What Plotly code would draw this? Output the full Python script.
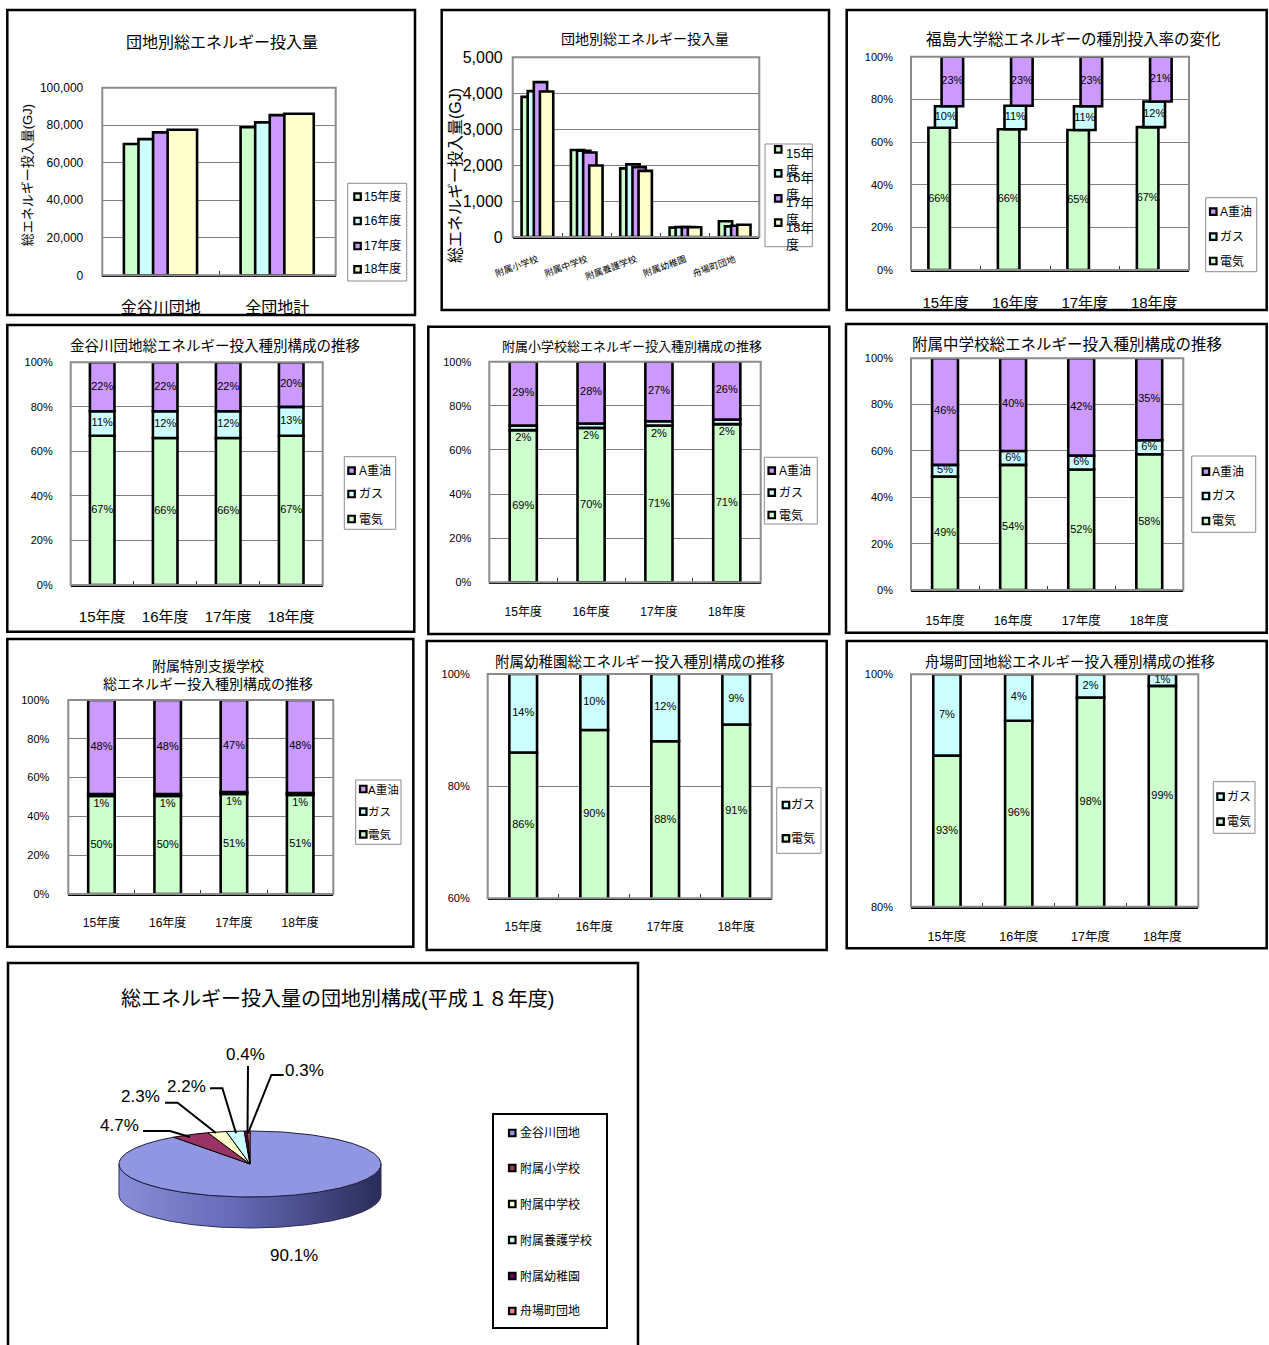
import math
import plotly.graph_objects as go

W, H = 1269, 1345
FONT = "Liberation Sans, Arial, Noto Sans CJK JP, sans-serif"

# ---------------- data ----------------
years = ["15年度", "16年度", "17年度", "18年度"]
year_colors = ["#CCFFCC", "#CCFFFF", "#CC99FF", "#FFFFCC"]

# 団地別総エネルギー投入量 (GJ)
site_names = ["金谷川団地", "全団地計"]
kanayagawa_gj = [70000, 72600, 76200, 77600]
all_sites_gj = [78900, 81500, 85400, 86100]

# 附属校・舟場町団地の総エネルギー投入量 (GJ)
school_names = ["附属小学校", "附属中学校", "附属養護学校", "附属幼稚園", "舟場町団地"]
elementary_gj = [3900, 4060, 4310, 4050]
junior_high_gj = [2420, 2400, 2350, 1990]
special_school_gj = [1910, 2020, 1940, 1840]
kindergarten_gj = [260, 275, 275, 270]
funaba_gj = [440, 295, 315, 340]

# 種別構成 (%)  電気 / ガス / A重油
energy_names = ["電気", "ガス", "A重油"]
energy_colors = ["#CCFFCC", "#CCFFFF", "#CC99FF"]

univ_elec = [66, 66, 65, 67]
univ_gas = [10, 11, 11, 12]
univ_oil = [23, 23, 23, 21]

kana_elec = [67, 66, 66, 67]
kana_gas = [11, 12, 12, 13]
kana_oil = [22, 22, 22, 20]

elem_elec = [69, 70, 71, 71]
elem_gas = [2, 2, 2, 2]
elem_oil = [29, 28, 27, 26]

jr_elec = [49, 54, 52, 58]
jr_gas = [5, 6, 6, 6]
jr_oil = [46, 40, 42, 35]

sp_elec = [50, 50, 51, 51]
sp_gas = [1, 1, 1, 1]
sp_oil = [48, 48, 47, 48]

kg_elec = [86, 90, 88, 91]
kg_gas = [14, 10, 12, 9]

fb_elec = [93, 96, 98, 99]
fb_gas = [7, 4, 2, 1]

# 総エネルギー投入量の団地別構成 (平成18年度, %)
pie_sites = ["金谷川団地", "附属小学校", "附属中学校", "附属養護学校", "附属幼稚園", "舟場町団地"]
pie_share = [90.1, 4.7, 2.3, 2.2, 0.4, 0.3]
pie_colors = ["#9196E2", "#993366", "#FFFFCC", "#CCFFFF", "#660066", "#FF8080"]

# ---------------- helpers ----------------
fig = go.Figure()
shapes = []
annotations = []


def fx(x):
    return x / W


def fy(y):
    return 1 - y / H


def names(n):
    return ("x" if n == 1 else f"x{n}"), ("y" if n == 1 else f"y{n}")


def setup_axes(n, box, cats, yrange, ydtick, xfont, yfont, xstand, ystand,
               yfmt=None, ysuffix="", tickangle=0):
    x0, y0, x1, y1 = box
    xn, yn = names(n)
    k = "" if n == 1 else str(n)
    idx = list(range(len(cats)))
    fig.update_layout(**{
        "xaxis" + k: dict(
            domain=[fx(x0), fx(x1)], anchor=yn, range=[-0.5, len(cats) - 0.5],
            tickmode="array", tickvals=idx, ticktext=cats, ticks="",
            tickangle=tickangle, ticklabelstandoff=xstand,
            tickfont=dict(size=xfont, color="black", family=FONT),
            showline=True, linecolor="black", linewidth=2, mirror=False,
            showgrid=False, zeroline=False, fixedrange=True,
            minor=dict(tickmode="array", tickvals=[i + 0.5 for i in idx[:-1]],
                       ticks="inside", ticklen=4, tickcolor="#333333",
                       tickwidth=1, showgrid=False),
        ),
        "yaxis" + k: dict(
            domain=[fy(y1), fy(y0)], anchor=xn, range=yrange, tick0=0,
            dtick=ydtick, tickformat=yfmt, ticksuffix=ysuffix, ticks="",
            ticklabelstandoff=ystand,
            tickfont=dict(size=yfont, color="black", family=FONT),
            showgrid=True, gridcolor="#808080", gridwidth=1,
            zeroline=False, showline=False, fixedrange=True,
        ),
    })
    # grey frame of the plotting area
    shapes.append(dict(type="rect", xref="paper", yref="paper",
                       x0=fx(x0), x1=fx(x1), y0=fy(y1), y1=fy(y0),
                       line=dict(color="#8C8C8C", width=2)))


def border(x0, y0, x1, y1):
    shapes.append(dict(type="rect", xref="paper", yref="paper",
                       x0=fx(x0), x1=fx(x1), y0=fy(y1), y1=fy(y0),
                       line=dict(color="black", width=2.5)))


def text(t, x, y, size, angle=0, xanchor="center", yanchor="middle", align="center"):
    annotations.append(dict(text=t, x=fx(x), y=fy(y), xref="paper", yref="paper",
                            showarrow=False, textangle=angle, xanchor=xanchor,
                            yanchor=yanchor, align=align,
                            font=dict(size=size, color="black", family=FONT)))


def key_square(x, yc, color):
    shapes.append(dict(type="rect", xref="paper", yref="paper",
                       x0=fx(x), x1=fx(x + 6.5), y0=fy(yc + 3.25), y1=fy(yc - 3.25),
                       fillcolor=color, line=dict(color="black", width=2.2)))


def legend_box(box, sq_x, items, text_x, size, frame="#8C8C8C", frame_w=1):
    x0, y0, x1, y1 = box
    shapes.append(dict(type="rect", xref="paper", yref="paper",
                       x0=fx(x0), x1=fx(x1), y0=fy(y1), y1=fy(y0),
                       fillcolor="white", line=dict(color=frame, width=frame_w)))
    for label, color, yc in items:
        key_square(sq_x, yc, color)
        text(label, text_x, yc, size, xanchor="left", align="left")


def add_grouped(n, series_by_year, offsets, width):
    xn, yn = names(n)
    for j, yr in enumerate(years):
        vals = series_by_year[j]
        fig.add_trace(go.Bar(
            x=list(range(len(vals))), y=vals, name=yr, offset=offsets[j], width=width,
            marker=dict(color=year_colors[j], line=dict(color="black", width=2.6)),
            xaxis=xn, yaxis=yn, showlegend=False, hoverinfo="skip"))


def add_stack(n, box, parts, colors, centers, width, yrange, label_size=11):
    xn, yn = names(n)
    ymin, ymax = yrange
    plot_h = box[3] - box[1]
    per_px = (ymax - ymin) / plot_h
    idx = list(range(len(parts[0])))
    totals = [sum(v) for v in zip(*parts)]
    base = [0.0] * len(idx)
    for part, color, c in zip(parts, colors, centers):
        share = [v / t * 100 for v, t in zip(part, totals)]
        fig.add_trace(go.Bar(
            x=idx, y=share, base=base, offset=c - width / 2, width=width,
            marker=dict(color=color, line=dict(color="black", width=2.6)),
            xaxis=xn, yaxis=yn, showlegend=False, hoverinfo="skip"))
        lab_y = []
        for b, s in zip(base, share):
            lo = max(b, ymin)
            top = b + s
            if (top - lo) / per_px < 8:
                lab_y.append(lo - 8.5 * per_px)
            else:
                lab_y.append((lo + top) / 2)
        fig.add_trace(go.Scatter(
            x=[i + c for i in idx], y=lab_y, text=[f"{v}%" for v in part],
            mode="text", textfont=dict(size=label_size, color="black", family=FONT),
            xaxis=xn, yaxis=yn, showlegend=False, hoverinfo="skip", cliponaxis=False))
        base = [b + s for b, s in zip(base, share)]


stack_legend = list(zip(reversed(energy_names), reversed(energy_colors)))

# ---------------- panel 1 : 団地別総エネルギー投入量 ----------------
border(7.3, 10, 415, 315)
box1 = (102.3, 87.7, 335.7, 275.3)
setup_axes(1, box1, site_names, [0, 100000], 20000, 16, 12, 16, 18, yfmt=",")
add_grouped(1, [[kanayagawa_gj[j], all_sites_gj[j]] for j in range(4)],
            [-0.315, -0.19, -0.065, 0.06], 0.252)
text("団地別総エネルギー投入量", 221.7, 42.7, 16)
text("総エネルギー投入量(GJ)", 28.3, 175, 13, angle=-90)
legend_box((347.7, 183.3, 406.7, 281), 354.3,
           [(yr, c, yc) for yr, c, yc in zip(years, year_colors, [196.7, 221, 246, 269.3])],
           362, 12)

# ---------------- panel 2 : 附属校別 ----------------
border(441.7, 10, 829, 310)
box2 = (512.7, 57.3, 759.3, 237)
setup_axes(2, box2, school_names, [0, 5000], 1000, 9, 16, 12, 9, yfmt=",", tickangle=-20)
school_series = [elementary_gj, junior_high_gj, special_school_gj, kindergarten_gj, funaba_gj]
add_grouped(2, [[s[j] for s in school_series] for j in range(4)],
            [-0.32, -0.196, -0.072, 0.052], 0.27)
text("団地別総エネルギー投入量", 645, 39.3, 14)
text("総エネルギー投入量(GJ)", 455, 176, 16, angle=-90)
shapes.append(dict(type="rect", xref="paper", yref="paper", x0=fx(765), x1=fx(812.3),
                   y0=fy(246.7), y1=fy(144), fillcolor="white",
                   line=dict(color="#8C8C8C", width=1)))
for yr, c, yc in zip(years, year_colors, [149.3, 173.3, 198.3, 222.7]):
    key_square(775, yc, c)
    text(yr[:-1] + "<br>" + yr[-1], 784, yc - 5, 13, xanchor="left", yanchor="top",
         align="left")

# ---------------- panel 3 : 福島大学 ----------------
border(846.7, 10, 1266.7, 310)
box3 = (911, 56.7, 1189, 270)
setup_axes(3, box3, years, [0, 100], 20, 15, 11, 18, 17, ysuffix="%")
add_stack(3, box3, [univ_elec, univ_gas, univ_oil], energy_colors,
          [-0.095, 0.0, 0.095], 0.31, (0, 100))
text("福島大学総エネルギーの種別投入率の変化", 1073.3, 39.3, 15.5)
legend_box((1205.7, 197.7, 1256.7, 271.7), 1210,
           [(nm, c, yc) for (nm, c), yc in zip(stack_legend, [211.7, 236.7, 261])], 1218.3, 12)

# ---------------- panel 4 : 金谷川団地 ----------------
border(7.3, 325, 414.3, 631.7)
box4 = (70.7, 362.3, 322.7, 585)
setup_axes(4, box4, years, [0, 100], 20, 15, 11, 17, 17, ysuffix="%")
add_stack(4, box4, [kana_elec, kana_gas, kana_oil], energy_colors, [0, 0, 0], 0.39, (0, 100))
text("金谷川団地総エネルギー投入種別構成の推移", 215, 346, 14.5)
legend_box((344.3, 456.7, 395.7, 529.3), 348.3,
           [(nm, c, yc) for (nm, c), yc in zip(stack_legend, [470.7, 494, 519])], 356.7, 12)

# ---------------- panel 5 : 附属小学校 ----------------
border(428.3, 326.7, 829.3, 634)
box5 = (489.3, 361.7, 760.7, 582.3)
setup_axes(5, box5, years, [0, 100], 20, 12, 11, 17, 17, ysuffix="%")
add_stack(5, box5, [elem_elec, elem_gas, elem_oil], energy_colors, [0, 0, 0], 0.40, (0, 100))
text("附属小学校総エネルギー投入種別構成の推移", 631.7, 346.7, 13)
legend_box((764.3, 457.3, 817.3, 524), 768.5,
           [(nm, c, yc) for (nm, c), yc in zip(stack_legend, [470.7, 492.7, 515])], 777, 12)

# ---------------- panel 6 : 附属中学校 ----------------
border(846, 324, 1266.7, 632.7)
box6 = (911, 358.3, 1183.3, 590)
setup_axes(6, box6, years, [0, 100], 20, 12.5, 11, 18, 17, ysuffix="%")
add_stack(6, box6, [jr_elec, jr_gas, jr_oil], energy_colors, [0, 0, 0], 0.38, (0, 100))
text("附属中学校総エネルギー投入種別構成の推移", 1066.7, 344, 15.5)
legend_box((1191.7, 456, 1255.7, 532.3), 1202.7,
           [(nm, c, yc) for (nm, c), yc in zip(stack_legend, [471.7, 496, 521])], 1210, 12)

# ---------------- panel 7 : 附属特別支援学校 ----------------
border(7.3, 639, 413.3, 946.7)
box7 = (68.3, 700, 333.3, 894)
setup_axes(7, box7, years, [0, 100], 20, 12, 11, 17, 18, ysuffix="%")
add_stack(7, box7, [sp_elec, sp_gas, sp_oil], energy_colors, [0, 0, 0], 0.40, (0, 100))
text("附属特別支援学校<br>総エネルギー投入種別構成の推移", 208.3, 675.3, 14)
legend_box((355.7, 780, 401, 844.3), 360,
           [(nm, c, yc) for (nm, c), yc in zip(stack_legend, [789, 811.7, 834.3])], 366.5, 11.5)

# ---------------- panel 8 : 附属幼稚園 ----------------
border(426.7, 641, 826.7, 950)
box8 = (487.7, 674, 771.7, 898.3)
setup_axes(8, box8, years, [60, 100], 20, 12, 11, 16, 17, ysuffix="%")
add_stack(8, box8, [kg_elec, kg_gas], energy_colors[:2], [0, 0], 0.39, (60, 100))
text("附属幼稚園総エネルギー投入種別構成の推移", 640, 661.7, 14.5)
legend_box((776.7, 787.7, 821, 853.3), 782.7,
           [("ガス", energy_colors[1], 805), ("電気", energy_colors[0], 838.3)], 789.3, 12)

# ---------------- panel 9 : 舟場町団地 ----------------
border(846.7, 641, 1266.7, 948.3)
box9 = (911, 674.3, 1198.3, 906.7)
setup_axes(9, box9, years, [80, 100], 20, 12.5, 11, 17, 17, ysuffix="%")
add_stack(9, box9, [fb_elec, fb_gas], energy_colors[:2], [0, 0], 0.38, (80, 100))
text("舟場町団地総エネルギー投入種別構成の推移", 1070, 661.7, 14.5)
legend_box((1213.3, 781.7, 1255, 833.3), 1217.3,
           [("ガス", energy_colors[1], 796.7), ("電気", energy_colors[0], 821.7)], 1225, 12)

# ---------------- panel 10 : 3-D style pie ----------------
border(8, 963, 638, 1352)
fig.update_layout(
    xaxis10=dict(domain=[fx(8), fx(638)], range=[8, 638], visible=False,
                 fixedrange=True, anchor="y10"),
    yaxis10=dict(domain=[0, fy(963)], range=[1345, 963], visible=False,
                 fixedrange=True, anchor="x10"),
)
cx, cy, rx, ry, depth = 250, 1164, 131, 33, 31


def ell(theta, dy=0.0):
    t = math.radians(theta)
    return cx + rx * math.cos(t), cy - ry * math.sin(t) + dy


# side wall of the disc (front half)
front = [180 + i for i in range(181)]
wall = [ell(t) for t in front] + [ell(t, depth) for t in reversed(front)]
wall.append(wall[0])
fig.add_trace(go.Scatter(
    x=[p[0] for p in wall], y=[p[1] for p in wall], mode="lines", fill="toself",
    fillgradient=dict(type="horizontal",
                      colorscale=[[0, "#8A8ED8"], [0.45, "#6569B6"], [1, "#2A2C58"]]),
    line=dict(color="#2C2E5A", width=1), xaxis="x10", yaxis="y10",
    showlegend=False, hoverinfo="skip"))

# top face slices, clockwise from 12 o'clock
total_share = sum(pie_share)
start = 90.0
for site, share, color in zip(pie_sites, pie_share, pie_colors):
    sweep = share / total_share * 360
    npts = max(3, int(sweep * 2) + 1)
    arc = [ell(start - sweep * k / (npts - 1)) for k in range(npts)]
    pts = [(cx, cy)] + arc + [(cx, cy)]
    fig.add_trace(go.Scatter(
        x=[p[0] for p in pts], y=[p[1] for p in pts], mode="lines", fill="toself",
        fillcolor=color, line=dict(color="#1E1E3C" if share > 50 else "black", width=1),
        xaxis="x10", yaxis="y10", name=site, showlegend=False, hoverinfo="skip"))
    start -= sweep

# data labels with leader lines
pie_label_pos = [(294, 1255), (119.6, 1125.7), (140.8, 1096.7), (186.5, 1086),
                 (245, 1054), (304, 1070)]
leaders = [None,
           "M143,1131 L170,1131 L190,1137",
           "M165,1102.7 L177.6,1102.7 L216,1133",
           "M210,1088.3 L222.4,1088.3 L236,1133.3",
           "M248,1066 L247.5,1133",
           "M283.7,1075 L271.4,1075 L248,1133.3"]
for share, (lx, ly), path in zip(pie_share, pie_label_pos, leaders):
    annotations.append(dict(text=f"{share}%", x=lx, y=ly, xref="x10", yref="y10",
                            showarrow=False, font=dict(size=17, color="black", family=FONT)))
    if path:
        shapes.append(dict(type="path", path=path, xref="x10", yref="y10",
                           line=dict(color="black", width=2)))

text("総エネルギー投入量の団地別構成(平成１８年度)", 337, 999, 20)
legend_box((493, 1114, 607, 1328), 509,
           [(s, c, yc) for s, c, yc in zip(pie_sites, pie_colors,
                                           [1133, 1168, 1204, 1240, 1276, 1311])],
           517.5, 12, frame="black", frame_w=2)

fig.update_layout(
    width=W, height=H, margin=dict(l=0, r=0, t=0, b=0, autoexpand=False),
    paper_bgcolor="white", plot_bgcolor="white",
    barmode="overlay", showlegend=False, hovermode=False,
    font=dict(family=FONT, color="black"),
    shapes=shapes, annotations=annotations,
)

fig.write_html("out.html", config={"displayModeBar": False})
